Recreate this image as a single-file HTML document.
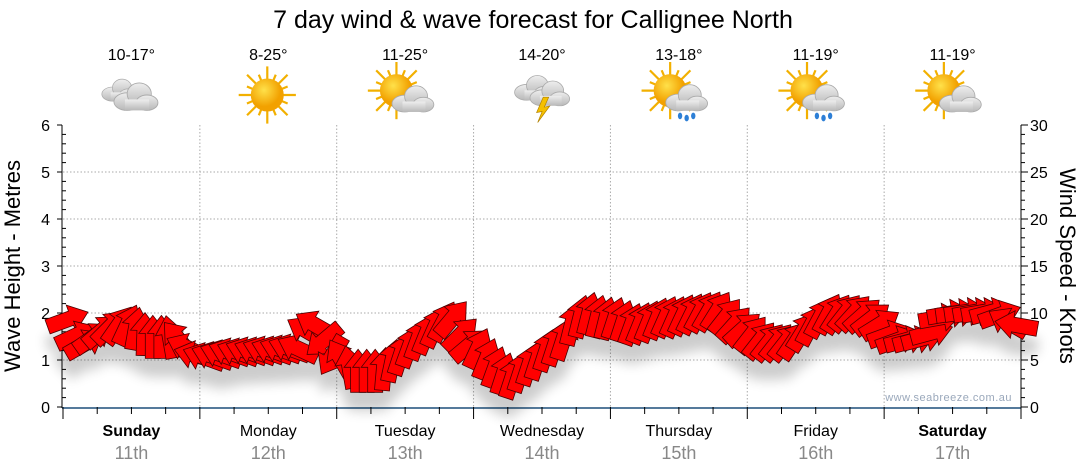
<!DOCTYPE html>
<html><head><meta charset="utf-8"><style>
body{margin:0;background:#fff;}
svg{display:block;font-family:"Liberation Sans",sans-serif;}
</style></head><body>
<svg id="c" width="1080" height="475" viewBox="0 0 1080 475">
<defs>
<filter id="sh" x="-20%" y="-50%" width="140%" height="250%"><feGaussianBlur in="SourceAlpha" stdDeviation="6"/><feOffset dy="18"/><feComponentTransfer><feFuncA type="linear" slope="0.2"/></feComponentTransfer><feMerge><feMergeNode/><feMergeNode in="SourceGraphic"/></feMerge></filter>
<radialGradient id="sun" cx="40%" cy="35%"><stop offset="0" stop-color="#ffe14a"/><stop offset="1" stop-color="#f2a100"/></radialGradient>
<linearGradient id="cl" x1="0" y1="0" x2="0" y2="1"><stop offset="0" stop-color="#eee"/><stop offset="1" stop-color="#b8b8b8"/></linearGradient>
</defs>
<text x="533" y="28" font-size="25" text-anchor="middle">7 day wind &amp; wave forecast for Callignee North</text>
<g id="grid"></g>
<g id="icons"></g>
<g id="axes"></g>
<g id="arrows" filter="url(#sh)"></g>
<text x="1012" y="401" font-size="11" fill="#9aa8bb" text-anchor="end" letter-spacing="0.5">www.seabreeze.com.au</text>
</svg>
<script>
const days=["Sunday","Monday","Tuesday","Wednesday","Thursday","Friday","Saturday"];
const dates=["11th","12th","13th","14th","15th","16th","17th"];
const temps=["10-17°","8-25°","11-25°","14-20°","13-18°","11-19°","11-19°"];
const icons=["cloud","sun","suncloud","storm","sunrain","sunrain","suncloud"];
const waveTicks=[0,1,2,3,4,5,6];
const windTicks=[0,5,10,15,20,25,30];
const windSpeed=[
9.3,7.6,6.7,7.4,8.1,8.5,8.7,8.7,8.3,7.7,7.4,7.4,7.4,7.2,6.3,5.5,
5.3,5.4,5.6,5.8,5.8,5.9,5.9,6.0,6.0,6.1,6.2,6.2,8.1,8.7,7.1,5.5,
5.1,4.2,3.8,3.8,3.8,4.0,4.9,5.6,6.4,7.2,7.8,8.5,9.1,9.4,7.7,6.6,
6.2,5.1,4.2,3.5,3.1,3.8,4.5,5.1,6.0,6.6,7.2,8.8,9.6,9.9,9.6,9.4,
9.4,9.1,8.8,8.9,9.1,9.4,9.6,9.6,9.8,9.9,10.1,10.2,10.2,9.6,8.8,8.3,
7.7,7.1,6.9,6.9,6.9,7.1,8.0,8.7,9.5,9.9,9.9,10.0,10.0,9.8,9.4,8.8,
7.7,7.1,7.1,7.1,7.3,7.9,9.5,9.9,10.0,10.1,10.1,10.1,10.1,9.8,9.0,8.7];
const windDir=[
-20,-25,-30,-35,-40,-45,-55,-65,-80,-88,-90,-90,-100,-130,-155,-165,
-160,-160,-160,-160,-160,-160,-160,-160,-160,-160,-160,-155,-150,-150,140,120,
-120,-100,-90,-90,-90,-85,-78,-72,-70,-70,-68,-66,-62,-50,-45,-40,
-65,-68,-70,-72,-72,-72,-72,-72,-72,-72,-72,-76,-76,-76,-76,-76,
-72,-72,-70,-68,-68,-68,-66,-66,-65,-64,-62,-60,-58,-52,-48,-42,
-52,-52,-52,-52,-52,-56,-58,-62,-62,-62,-58,-52,-48,-42,-38,-32,
-20,-20,-15,-15,-15,-15,-10,-10,-8,-8,-10,-10,-15,-20,-150,-170];
const X0=63,X1=1021,Y0=407,YT=125;
const xs=t=>X0+(X1-X0)*t/(days.length*16);
const yw=v=>Y0-(Y0-YT)*v/6;
const yk=v=>Y0-(Y0-YT)*v/30;
const NS="http://www.w3.org/2000/svg";
function mk(tag,attrs,parent,txt){const e=document.createElementNS(NS,tag);for(const k in attrs)e.setAttribute(k,attrs[k]);if(txt!=null)e.textContent=txt;document.getElementById(parent).appendChild(e);return e;}
for(let v=1;v<=5;v++){const l=mk('line',{x1:X0,x2:X1,y1:yw(v),y2:yw(v),stroke:'#aaa','stroke-dasharray':'1.5,2'},'grid');

}
for(let d=1;d<days.length;d++){const l=mk('line',{x1:xs(d*16),x2:xs(d*16),y1:YT,y2:Y0,stroke:'#aaa','stroke-dasharray':'1.5,2'},'grid');

}
mk('line',{x1:X0-1,x2:X0-1,y1:YT,y2:Y0+1,stroke:'#000'},'axes');
mk('line',{x1:X1,x2:X1,y1:YT,y2:Y0+1,stroke:'#000'},'axes');
mk('line',{x1:X0-1,x2:X1,y1:Y0+1,y2:Y0+1,stroke:'#1d4f7a','stroke-width':1.5},'axes');
for(let v=0;v<=30;v++){const y=yk(v);mk('line',{x1:X1,x2:X1+(v%5?4:7),y1:y,y2:y,stroke:'#000'},'axes');}
for(let i=0;i<=30;i++){const y=yw(i/5);mk('line',{x1:X0-1,x2:X0+(i%5?3:-6),y1:y,y2:y,stroke:'#000'},'axes');}
waveTicks.forEach(v=>{const t=mk('text',{x:50,y:yw(v)+6,'font-size':16,'text-anchor':'end'},'axes',v);

});
windTicks.forEach(v=>{const t=mk('text',{x:1030,y:yk(v)+6,'font-size':16},'axes',v);

});
for(let i=0;i<=days.length*4;i++){const x=xs(i*4);mk('line',{x1:x,x2:x,y1:Y0,y2:Y0+(i%4?7:12),stroke:'#000'},'axes');}
let t1=mk('text',{x:20,y:266,'font-size':22,'text-anchor':'middle',transform:'rotate(-90 20 266)'},'axes','Wave Height - Metres');


let t2=mk('text',{x:1060,y:266,'font-size':22,'text-anchor':'middle',transform:'rotate(90 1060 266)'},'axes','Wind Speed - Knots');


days.forEach((d,i)=>{const cx=xs(i*16+8);
const a=mk('text',{x:cx,y:436,'font-size':16,'text-anchor':'middle','font-weight':(i==0||i==6)?'bold':'normal'},'axes',d);


const b=mk('text',{x:cx,y:459,'font-size':18,'text-anchor':'middle',fill:'#888'},'axes',dates[i]);


const c=mk('text',{x:cx,y:60,'font-size':16,'text-anchor':'middle'},'icons',temps[i]);


const g=mk('g',{transform:`translate(${cx-1},95) scale(1.1)`},'icons');


const k=icons[i];let h='';
const sun='<g stroke="#f2b000" stroke-width="2">'+Array.from({length:16},(_,j)=>{const a=j*Math.PI/8,r=j%2?20:26;return `<line x1="0" y1="0" x2="${(r*Math.cos(a)).toFixed(1)}" y2="${(r*Math.sin(a)).toFixed(1)}"/>`}).join('')+'</g><circle r="15" fill="url(#sun)"/>';
const cloud=(dx,dy,s)=>`<g transform="translate(${dx},${dy}) scale(${s})" fill="url(#cl)" stroke="#aaa" stroke-width="0.8"><ellipse cx="-8" cy="4" rx="12" ry="8"/><ellipse cx="3" cy="-3" rx="11" ry="10"/><ellipse cx="10" cy="5" rx="10" ry="7"/><rect x="-10" y="2" width="22" height="10" stroke="none"/></g>`;
if(k=='cloud')h=cloud(-10,-4,0.8)+cloud(5,2,1);
else if(k=='sun')h=sun;
else if(k=='suncloud')h=`<g transform="translate(-7,-4)">${sun}</g>`+cloud(8,4,0.95);
else if(k=='storm')h=cloud(-6,-6,0.9)+cloud(8,-1,0.9)+'<polygon points="2,2 -4,16 1,15 -3,25 8,10 3,11 7,2" fill="#f5c000" stroke="#b08000" stroke-width="0.6"/>';
else if(k=='sunrain')h=`<g transform="translate(-7,-4)">${sun}</g>`+cloud(8,3,0.95)+'<g fill="#2d7fd6"><ellipse cx="2" cy="19" rx="2" ry="3"/><ellipse cx="8" cy="21" rx="2" ry="3"/><ellipse cx="14" cy="19" rx="2" ry="3"/></g>';
g.innerHTML=h;});
windSpeed.forEach((v,i)=>{const x=xs(i+0.5),y=yk(v);
const p=mk('polygon',{points:'-21,-7.5 4,-7.5 4,-14 22,0 4,14 4,7.5 -21,7.5',fill:'#f00',stroke:'#4a0000','stroke-width':0.8,transform:`translate(${x.toFixed(1)},${y.toFixed(1)}) rotate(${windDir[i]})`},'arrows');

});
</script>
</body></html>
